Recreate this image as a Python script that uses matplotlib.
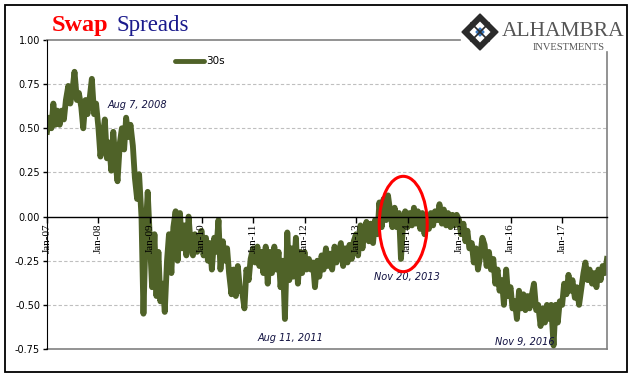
import numpy as np
import pandas as pd
import matplotlib
matplotlib.use('Agg')
import matplotlib.pyplot as plt
import matplotlib.dates as mdates
from matplotlib.patches import Ellipse, Polygon, Rectangle
from matplotlib.lines import Line2D

# semi-monthly readings (1st and 15th of each month), spread in percentage points
v2007 = [0.48, 0.56, 0.50, 0.64, 0.52, 0.60, 0.52, 0.60, 0.55, 0.66, 0.74, 0.64,
         0.72, 0.82, 0.66, 0.70, 0.62, 0.50, 0.66, 0.58, 0.68, 0.78, 0.58, 0.64]
v2008 = [0.50, 0.34, 0.46, 0.55, 0.33, 0.42, 0.26, 0.48, 0.30, 0.20, 0.42, 0.50,
         0.38, 0.56, 0.45, 0.52, 0.40, 0.22, 0.10, 0.24, 0.00, -0.55, -0.08, 0.14]
v2009 = [-0.15, -0.40, -0.10, -0.45, -0.20, -0.48, -0.38, -0.54, -0.25, -0.10, -0.32, -0.06,
         0.03, -0.25, 0.02, -0.18, -0.05, -0.22, 0.00, -0.15, -0.22, -0.10, -0.20, -0.12]
v2010 = [-0.08, -0.22, -0.12, -0.25, -0.15, -0.30, -0.12, -0.20, -0.02, -0.30, -0.14, -0.25,
         -0.18, -0.32, -0.44, -0.30, -0.45, -0.28, -0.42, -0.42, -0.52, -0.30, -0.36, -0.24]
v2011 = [-0.18, -0.26, -0.17, -0.28, -0.20, -0.32, -0.17, -0.38, -0.20, -0.32, -0.17, -0.30,
         -0.20, -0.40, -0.25, -0.58, -0.09, -0.36, -0.18, -0.34, -0.12, -0.38, -0.20, -0.32]
v2012 = [-0.20, -0.30, -0.24, -0.30, -0.26, -0.40, -0.25, -0.34, -0.22, -0.30, -0.18, -0.28,
         -0.21, -0.30, -0.17, -0.26, -0.20, -0.15, -0.28, -0.18, -0.26, -0.16, -0.24, -0.14]
v2013 = [-0.10, -0.22, -0.05, -0.18, -0.08, -0.03, -0.14, -0.04, -0.15, -0.02, -0.10, 0.08,
         -0.06, 0.10, -0.02, 0.12, 0.02, -0.06, 0.05, -0.06, 0.02, -0.24, -0.03, 0.03]
v2014 = [-0.06, 0.02, -0.05, 0.05, -0.04, 0.03, -0.07, 0.02, -0.10, 0.00, -0.07, 0.02,
         -0.05, 0.03, -0.02, 0.07, -0.04, 0.04, -0.05, 0.02, -0.06, 0.01, -0.05, 0.01]
v2015 = [-0.02, -0.10, -0.04, -0.14, -0.08, -0.18, -0.15, -0.26, -0.18, -0.30, -0.22, -0.12,
         -0.16, -0.28, -0.20, -0.30, -0.24, -0.38, -0.30, -0.42, -0.36, -0.50, -0.30, -0.45]
v2016 = [-0.40, -0.52, -0.48, -0.58, -0.42, -0.52, -0.44, -0.53, -0.45, -0.52, -0.44, -0.38,
         -0.53, -0.50, -0.62, -0.52, -0.60, -0.50, -0.58, -0.50, -0.73, -0.50, -0.60, -0.48]
v2017 = [-0.50, -0.38, -0.44, -0.33, -0.42, -0.36, -0.46, -0.40, -0.50, -0.42, -0.32, -0.26,
         -0.36, -0.30, -0.38, -0.32, -0.40, -0.30, -0.36, -0.28, -0.32, -0.24]

values = v2007 + v2008 + v2009 + v2010 + v2011 + v2012 + v2013 + v2014 + v2015 + v2016 + v2017
dates = pd.date_range('2007-01-01', periods=len(values), freq='SMS')

years = list(range(2007, 2018))
yticks = [-0.75, -0.50, -0.25, 0.00, 0.25, 0.50, 0.75, 1.00]

notes = [('Aug 7, 2008', '2008-03-08', 0.63),
         ('Aug 11, 2011', '2011-02-01', -0.69),
         ('Nov 20, 2013', '2013-05-10', -0.34),
         ('Nov 9, 2016', '2015-09-12', -0.71)]

W, H = 641, 381
fig = plt.figure(figsize=(W / 100, H / 100), dpi=100)


def px(x, y):
    return x / W, 1 - y / H


# outer frame
fig.patches.append(Rectangle(px(4.5, 372), 622.5 / W, 367 / H, transform=fig.transFigure,
                             fill=False, edgecolor='black', linewidth=1.3))

ax = fig.add_axes([47 / W, (H - 349) / H, 560 / W, 309 / H])
line_c = '#4f6228'
ax.plot(dates, values, color=line_c, linewidth=4.2, solid_joinstyle='round', zorder=2)

ax.set_ylim(-0.75, 1.0)
ax.set_xlim(pd.Timestamp('2007-01-01'), pd.Timestamp('2017-11-15'))
ax.set_yticks(yticks)
ax.set_yticklabels([f'{t:.2f}' for t in yticks], fontsize=7, family='DejaVu Sans')
for t in [-0.5, -0.25, 0.25, 0.5, 0.75]:
    ax.axhline(t, color='#bfbfbf', linewidth=0.8, linestyle=(0, (3, 2)), zorder=1)
ax.axhline(-0.75, color='#808080', linewidth=1.2, zorder=1, clip_on=False)

ax.spines['top'].set_visible(False)
ax.spines['right'].set_visible(False)
ax.spines['left'].set_color('black')
ax.spines['bottom'].set_position(('data', 0))
ax.spines['bottom'].set_color('black')
ax.spines['bottom'].set_linewidth(1.0)
ax.spines['bottom'].set_zorder(3)
ax.add_line(Line2D([0, (460 - 47) / 560], [1, 1], transform=ax.transAxes,
                   color='#808080', linewidth=1.2, clip_on=False))
ax.add_line(Line2D([1, 1], [0, (349 - 52) / 309], transform=ax.transAxes,
                   color='#808080', linewidth=1.2, clip_on=False))

ax.set_xticks([pd.Timestamp(f'{y}-01-01') for y in years])
ax.xaxis.set_major_formatter(mdates.DateFormatter('Jan-%y'))
ax.tick_params(axis='x', direction='out', length=4, width=1, pad=1, labelsize=8,
               labelrotation=90)
for lab in ax.get_xticklabels():
    lab.set_family('Liberation Serif')
ax.xaxis.set_zorder(5)  # labels sit on top of the line, as in the source
ax.tick_params(axis='y', direction='out', length=3, width=1, pad=2)

# legend
ax.add_line(Line2D([(175 - 47) / 560, (204 - 47) / 560], [(349 - 61) / 309] * 2,
                   transform=ax.transAxes, color=line_c, linewidth=3.5,
                   solid_capstyle='round'))
ax.text((206 - 47) / 560, (349 - 61) / 309, '30s', transform=ax.transAxes,
        fontsize=7.5, va='center', ha='left', family='DejaVu Sans')

for txt, d, v in notes:
    ax.text(pd.Timestamp(d), v, txt, fontsize=7, style='italic', color='#101040',
            family='DejaVu Sans', va='center', ha='left')

# red ellipse around the Nov 2013 drop
cx = mdates.date2num(pd.Timestamp('2013-12-01'))
ax.add_patch(Ellipse((cx, -0.042), 340, 0.54, fill=False, edgecolor='#ff0000',
                     linewidth=2.2, zorder=4))

# title
fig.text(*px(52, 31), 'Swap', color='#ff0000', fontsize=17.5, fontweight='bold',
         family='Liberation Serif', va='baseline')
fig.text(*px(116, 31), 'Spreads', color='#1a1a8c', fontsize=16.5,
         family='Liberation Serif', va='baseline')

# logo
cxl, cyl, r = 480, 32, 18
fig.patches.append(Polygon([px(cxl, cyl - r), px(cxl + r, cyl), px(cxl, cyl + r), px(cxl - r, cyl)],
                           closed=True, transform=fig.transFigure, facecolor='#2b2b2b',
                           edgecolor='#2b2b2b'))
r2 = 12
fig.patches.append(Polygon([px(cxl, cyl - r2), px(cxl + r2, cyl), px(cxl, cyl + r2), px(cxl - r2, cyl)],
                           closed=True, transform=fig.transFigure, facecolor='white',
                           edgecolor='#2b2b2b', linewidth=1.5))
r3 = 4
fig.patches.append(Polygon([px(cxl, cyl - r3), px(cxl + r3, cyl), px(cxl, cyl + r3), px(cxl - r3, cyl)],
                           closed=True, transform=fig.transFigure, facecolor='#3a78c0',
                           edgecolor='#3a78c0'))
for a, b in [((cxl - 9, cyl - 9), (cxl + 9, cyl + 9)), ((cxl - 9, cyl + 9), (cxl + 9, cyl - 9))]:
    fig.lines.append(Line2D([px(*a)[0], px(*b)[0]], [px(*a)[1], px(*b)[1]],
                            transform=fig.transFigure, color='#2b2b2b', linewidth=1.2))
fig.text(*px(502, 36), 'ALHAMBRA', color='#555555', fontsize=15.5,
         family='Liberation Serif', va='baseline')
fig.text(*px(533, 50), 'INVESTMENTS', color='#555555', fontsize=7.5,
         family='Liberation Serif', va='baseline')

fig.savefig('out.png', dpi=100)
